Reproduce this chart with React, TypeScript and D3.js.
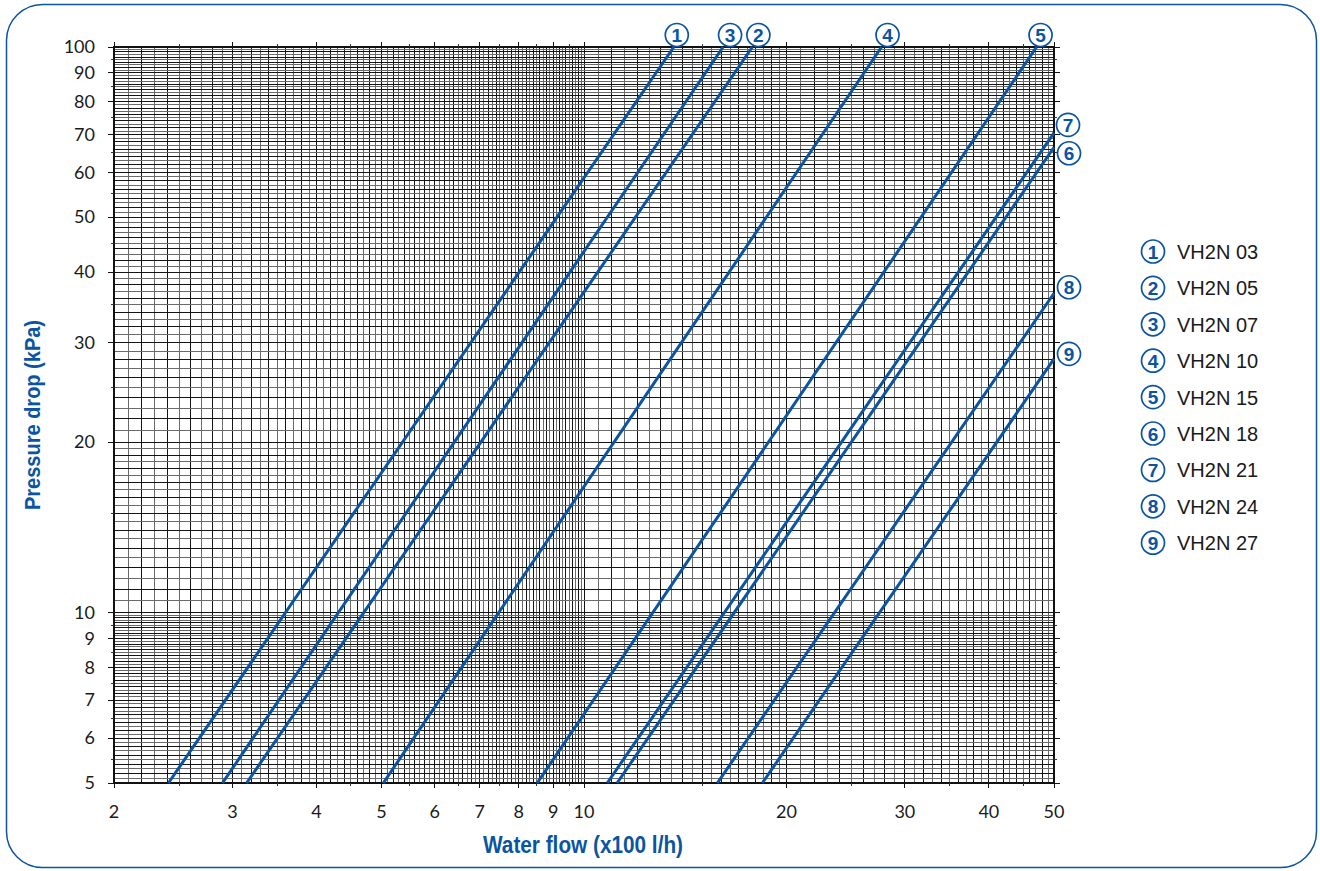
import React from 'react';
import * as d3 from 'd3';

// ---- data ----
const models = ['VH2N 03', 'VH2N 05', 'VH2N 07', 'VH2N 10', 'VH2N 15', 'VH2N 18', 'VH2N 21', 'VH2N 24', 'VH2N 27'];
const curveIds = ['1', '2', '3', '4', '5', '6', '7', '8', '9'];
const flowStart = [2.41, 3.15, 2.9, 5.03, 8.52, 11.2, 10.83, 15.79, 18.42]; // x100 l/h at 5 kPa
const pressureStart = [5, 5, 5, 5, 5, 5, 5, 5, 5];
const flowEnd = [13.6, 17.8, 16.1, 27.7, 47.1, 50, 50, 50, 50];
const pressureEnd = [100, 100, 100, 100, 100, 66.5, 70.5, 36.7, 28.1];

const xTickLabels = [2, 3, 4, 5, 6, 7, 8, 9, 10, 20, 30, 40, 50];
const yTickLabels = [5, 6, 7, 8, 9, 10, 20, 30, 40, 50, 60, 70, 80, 90, 100];
const xMinorTicks = [2.5, 3.5, 4.5, 5.5, 6.5, 7.5, 8.5, 9.5, 15, 25, 35, 45];
const yMinorTicks = [5.5, 6.5, 7.5, 8.5, 9.5, 15, 25, 35, 45, 55, 65, 75, 85, 95];

// grid segments: [from, to, step]
const xGridSegments = [[2, 10, 0.1], [10, 20, 0.5], [20, 50, 1]];
const yGridSegments = [[5, 10, 0.1], [10, 20, 0.5], [20, 100, 1]];

// ---- layout ----
const W = 1320, H = 871;
const left = 114, right = 1054, top = 47, bottom = 783;
const BLUE = '#0a54a2';
const labelOffsets: [number, number][] = [
  [3, -12], [6, -12], [7, -12], [6, -12], [4, -12],
  [15, 6], [14, -8], [15, -6], [15, -5],
];

function gridValues(segs: number[][]) {
  const out: { v: number; i: number }[] = [];
  segs.forEach(([a, b, s], si) => {
    const n = Math.round((b - a) / s);
    for (let k = si === 0 ? 0 : 1; k <= n; k++) {
      out.push({ v: +(a + k * s).toFixed(4), i: k });
    }
  });
  return out;
}

export default function App() {
  const x = d3.scaleLog().domain([2, 50]).range([left, right]);
  const y = d3.scaleLog().domain([5, 100]).range([bottom, top]);
  const xs = gridValues(xGridSegments);
  const ys = gridValues(yGridSegments);
  const line = d3.line<[number, number]>().x((d) => x(d[0])).y((d) => y(d[1]));
  const font = "'Liberation Sans', Arial, sans-serif";
  const tickFont = "Lato, 'Open Sans', sans-serif";
  const condensed = "'Liberation Sans Narrow', 'Liberation Sans', Arial, sans-serif";

  const circled = (cx: number, cy: number, t: string, key: string) => (
    <g key={key}>
      <circle cx={cx} cy={cy} r={11.5} fill="#fff" stroke={BLUE} strokeWidth={1.7} />
      <text x={cx} y={cy + 7} textAnchor="middle" fontFamily={font} fontWeight="bold" fontSize={19} fill={BLUE}>
        {t}
      </text>
    </g>
  );

  return (
    <svg width={W} height={H} style={{ position: 'absolute', left: 0, top: 0, background: '#fff' }}>
      <rect x={6.5} y={4.5} width={1310} height={863} rx={36} ry={36} fill="#fff" stroke={BLUE} strokeWidth={1.5} />

      {/* grid */}
      <g shapeRendering="crispEdges">
        {xs.map((d, k) => (
          <line key={'gx' + k} x1={x(d.v)} x2={x(d.v)} y1={top} y2={bottom}
            stroke={d.i % 2 === 0 ? '#141414' : '#6a6a6a'} strokeWidth={1} />
        ))}
        {ys.map((d, k) => (
          <line key={'gy' + k} y1={y(d.v)} y2={y(d.v)} x1={left} x2={right}
            stroke={d.i % 2 === 0 ? '#141414' : '#6a6a6a'} strokeWidth={1} />
        ))}
        <rect x={left} y={top} width={right - left} height={bottom - top} fill="none" stroke="#111" strokeWidth={1.2} />
        {/* ticks */}
        {xTickLabels.map((v) => (
          <g key={'xt' + v}>
            <line x1={x(v)} x2={x(v)} y1={bottom} y2={bottom + 5} stroke="#111" />
            <line x1={x(v)} x2={x(v)} y1={top} y2={top - 5} stroke="#111" />
          </g>
        ))}
        {xMinorTicks.map((v) => (
          <g key={'xm' + v}>
            <line x1={x(v)} x2={x(v)} y1={bottom} y2={bottom + 3} stroke="#333" />
            <line x1={x(v)} x2={x(v)} y1={top} y2={top - 3} stroke="#333" />
          </g>
        ))}
        {yTickLabels.map((v) => (
          <g key={'yt' + v}>
            <line y1={y(v)} y2={y(v)} x1={left} x2={left - 6} stroke="#111" />
            <line y1={y(v)} y2={y(v)} x1={right} x2={right + 6} stroke="#111" />
          </g>
        ))}
        {yMinorTicks.map((v) => (
          <g key={'ym' + v}>
            <line y1={y(v)} y2={y(v)} x1={left} x2={left - 3} stroke="#333" />
            <line y1={y(v)} y2={y(v)} x1={right} x2={right + 3} stroke="#333" />
          </g>
        ))}
      </g>

      {/* tick labels */}
      {xTickLabels.map((v) => (
        <text key={'xl' + v} x={x(v)} y={818} textAnchor="middle" fontFamily={tickFont} fontSize={18} fill="#1a1a1a">
          {v}
        </text>
      ))}
      {yTickLabels.map((v) => (
        <text key={'yl' + v} x={95} y={y(v) + 6} textAnchor="end" fontFamily={tickFont} fontSize={18} fill="#1a1a1a">
          {v}
        </text>
      ))}

      {/* curves */}
      {models.map((m, i) => (
        <path key={'c' + i}
          d={line([[flowStart[i], pressureStart[i]], [flowEnd[i], pressureEnd[i]]]) || ''}
          fill="none" stroke={BLUE} strokeWidth={3} />
      ))}
      {models.map((m, i) =>
        circled(x(flowEnd[i]) + labelOffsets[i][0], y(pressureEnd[i]) + labelOffsets[i][1], curveIds[i], 'lab' + i)
      )}

      {/* legend */}
      {models.map((m, i) => (
        <g key={'lg' + i} transform={`translate(1153, ${251.5 + i * 36.4})`}>
          {circled(0, 0, curveIds[i], 'lgc' + i)}
          <text x={24} y={7.5} fontFamily={font} fontSize={20} fill="#1a1a1a">{m}</text>
        </g>
      ))}

      {/* axis titles */}
      <text x={583} y={853} textAnchor="middle" fontFamily={condensed} fontWeight="bold" fontSize={24}
        fill={BLUE} textLength={200} lengthAdjust="spacingAndGlyphs">
        Water flow (x100 l/h)
      </text>
      <text transform="translate(40, 415) rotate(-90)" textAnchor="middle" fontFamily={condensed} fontWeight="bold"
        fontSize={22} fill={BLUE} textLength={190} lengthAdjust="spacingAndGlyphs">
        Pressure drop (kPa)
      </text>
    </svg>
  );
}
